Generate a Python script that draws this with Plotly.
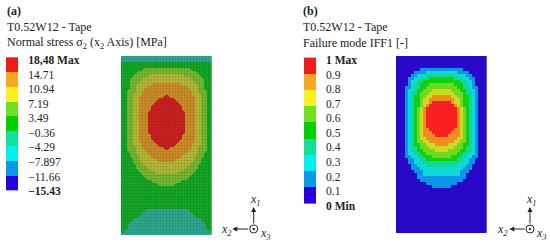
import numpy as np
import plotly.graph_objects as go

W, H = 550, 247
FONT = "Liberation Serif"

# Band index per mesh cell, left half of each row (panels are mirror-symmetric)
STRESS_ROWS = (
    ["333333333333333"] * 2 + ["444444444444444"] * 2 + [
    "444444455555555", "444445555555555", "444455555666666", "444555566666666",
    "444555666666666", "444556666677777", "444556667777777", "445556677777777",
    "445566677777777", "445566777777778", "445566777777888", "445566777778888",
    "445566777788888", "445566777788888"] + ["445566777888888"] * 8 + [
    "445566777788888", "445566777788888", "445566777778888", "445566677777888",
    "445556677777778", "445556667777777", "444556666777777", "444555666677777",
    "444455666666777", "444455566666666", "444445556666666", "444445555666666",
    "444444555556666", "444444455555555", "444444445555555", "444444444455555",
    "444444444444555"] + ["444444444444444"] * 8 + [
    "444444443333333", "444444433333333", "444444333333333", "444433333333333", "444333333333333",
    "443333333333333", "443333333333333", "433333333333333", "333333333333333"]
)
FAILURE_ROWS = (
    ["000000000000000"] * 4 + [
    "000000001111111", "000000111122222", "000001122233333", "000011223334444",
    "000012233444444", "000012334445555", "000112334455555", "000122344555666",
    "000123345556666", "000123445566777", "000123445667777", "000123445667888",
    "000123445678888"] + ["000123456788888"] * 7 + [
    "000123456778888", "000123456777888", "000123456777788", "000123456677777",
    "000123455667777", "000123445566677", "000123345556666", "000123344555566",
    "000122334455555", "000112233444555", "000011223344444", "000011222333333",
    "000001122233333", "000001112222222", "000000111222222", "000000011222222",
    "000000011111111", "000000001111111", "000000000011111", "000000000000111"] +
    ["000000000000000"] * 15
)

LEGEND_BANDS = [0, 1, 2, 3, 4, 5, 6, 7, 8]
STRESS_COLORS = ["#2a10c8", "#1098d8", "#10d0d0", "#30a890", "#14a828",
                 "#78b830", "#b8b838", "#d08c28", "#cf2020"]
FAILURE_COLORS = ["#2a08c8", "#0a96e6", "#10d8d8", "#10d898", "#10d010",
                  "#70d820", "#d0d820", "#f08c20", "#f82020"]
LEGEND_COLORS = ["#2800e0", "#0898e8", "#00f0f0", "#10e098", "#00d000",
                 "#70e020", "#f8f020", "#f8a820", "#f01c1c"]

STRESS_LABELS = ["<b>18,48 Max</b>", "14.71", "10.94", "7.19", "3.49", "−0.36",
                 "−4.29", "−7.897", "−11.66", "<b>−15.43</b>"]
FAILURE_LABELS = ["<b>1 Max</b>", "0.9", "0.8", "0.7", "0.6", "0.5", "0.4", "0.3",
                  "0.2", "0.1", "<b>0 Min</b>"]


def px(x): return x / W
def py(y): return 1 - y / H
def expand(rows): return [[int(c) for c in r + r[::-1]] for r in rows]
def scale(cols):
    n = len(cols)
    out = []
    for i, c in enumerate(cols):
        out += [[i / n, c], [(i + 1) / n, c]]
    return out


fig = go.Figure()
layout = dict(
    width=W, height=H, margin=dict(l=0, r=0, t=0, b=0, pad=0),
    paper_bgcolor="white", plot_bgcolor="white", showlegend=False, hovermode=False,
    font=dict(family=FONT, size=11.5, color="#222222"),
)


def field(rows, colors, idx, x0, x1, y0, y1, smooth):
    z = expand(rows)
    fig.add_trace(go.Heatmap(z=z, zmin=-0.5, zmax=8.5, colorscale=scale(colors), showscale=False,
                             zsmooth="best" if smooth else False,
                             xaxis=f"x{idx}", yaxis=f"y{idx}", hoverinfo="skip"))
    nr, nc = len(z), len(z[0])
    layout[f"xaxis{idx}"] = dict(domain=[px(x0), px(x1)], range=[-0.5, nc - 0.5], visible=False, anchor=f"y{idx}")
    layout[f"yaxis{idx}"] = dict(domain=[py(y1), py(y0)], range=[nr - 0.5, -0.5], visible=False, anchor=f"x{idx}")
    return nr, nc


def mesh(idx, nr, nc):
    xs, ys = [], []
    for c in np.arange(nc + 1) - 0.5:
        xs += [c, c, None]; ys += [-0.5, nr - 0.5, None]
    for r in np.arange(nr + 1) - 0.5:
        xs += [-0.5, nc - 0.5, None]; ys += [r, r, None]
    fig.add_trace(go.Scatter(x=xs, y=ys, mode="lines", line=dict(color="rgba(0,40,0,0.15)", width=0.7),
                             xaxis=f"x{idx}", yaxis=f"y{idx}", hoverinfo="skip"))


def legend(labels, idx, x0, x1, top, bottom, label_top, label_step, standoff):
    h = (bottom - top) / len(LEGEND_BANDS)
    fig.add_trace(go.Heatmap(z=[[b] for b in LEGEND_BANDS], zmin=-0.5, zmax=8.5,
                             colorscale=scale(LEGEND_COLORS), showscale=False,
                             xaxis=f"x{idx}", yaxis=f"y{idx}", hoverinfo="skip"))
    dom_top, dom_bot = 48, 214
    to_unit = lambda y: -0.5 + (bottom - y) / h
    tick_px = [label_top + label_step * i for i in range(len(labels))]
    layout[f"xaxis{idx}"] = dict(domain=[px(x0), px(x1)], range=[-0.5, 0.5], visible=False, anchor=f"y{idx}")
    layout[f"yaxis{idx}"] = dict(domain=[py(dom_bot), py(dom_top)], range=[to_unit(dom_bot), to_unit(dom_top)],
                                 side="right", anchor=f"x{idx}", showgrid=False, zeroline=False, showline=False,
                                 ticks="", tickmode="array", tickvals=[to_unit(t) for t in tick_px],
                                 ticktext=labels, ticklabelstandoff=standoff,
                                 tickfont=dict(family=FONT, size=11.5, color="#222222"))


nr, nc = field(STRESS_ROWS, STRESS_COLORS, 1, 121, 211.7, 56, 235.3, True)
mesh(1, nr, nc)
field(FAILURE_ROWS, FAILURE_COLORS, 2, 396, 486.7, 56, 233, False)
legend(STRESS_LABELS, 3, 6, 18.3, 57.3, 190.6, 60, 14.56, 9)
legend(FAILURE_LABELS, 4, 304, 316, 57.6, 204, 60, 14.57, 9)

annotations = []
def text(x, y, s, size=12, anchor="left"):
    annotations.append(dict(x=px(x), y=py(y), xref="paper", yref="paper", text=s, showarrow=False,
                            xanchor=anchor, yanchor="middle", font=dict(family=FONT, size=size, color="#222222")))

text(4.5, 11, "<b>(a)</b>")
text(5, 27, "T0.52W12 - Tape")
text(5, 43, "Normal stress σ<sub>2</sub> (x<sub>2</sub> Axis) [MPa]")
text(301, 11, "<b>(b)</b>")
text(301, 27, "T0.52W12 - Tape")
text(301, 43, "Failure mode IFF1 [-]")

shapes = []
def triad(cx, cy, up_y, left_x, lx1, lx2, lx3):
    shapes.append(dict(type="circle", xref="paper", yref="paper", x0=px(cx - 4), x1=px(cx + 4),
                       y0=py(cy + 4), y1=py(cy - 4), line=dict(color="#222222", width=1)))
    shapes.append(dict(type="circle", xref="paper", yref="paper", x0=px(cx - 1), x1=px(cx + 1),
                       y0=py(cy + 1), y1=py(cy - 1), fillcolor="#222222", line=dict(color="#222222", width=0.5)))
    annotations.append(dict(x=px(cx), y=py(up_y), ax=0, ay=cy - 4 - up_y, xref="paper", yref="paper",
                            axref="pixel", ayref="pixel", text="", showarrow=True, arrowhead=2, arrowsize=1,
                            arrowwidth=1, arrowcolor="#222222"))
    annotations.append(dict(x=px(left_x), y=py(cy), ax=cx - 4 - left_x, ay=0, xref="paper", yref="paper",
                            axref="pixel", ayref="pixel", text="", showarrow=True, arrowhead=2, arrowsize=1,
                            arrowwidth=1, arrowcolor="#222222"))
    text(lx1, 200, "<i>x<sub>1</sub></i>", anchor="center")
    text(lx2, 230, "<i>x<sub>2</sub></i>", anchor="center")
    text(lx3, 234, "<i>x<sub>3</sub></i>", anchor="center")

triad(253.7, 229, 207, 232.3, 255, 226, 265)
triad(530, 229, 207, 509.3, 531, 502, 541.7)

layout["annotations"] = annotations
layout["shapes"] = shapes
fig.update_layout(**layout)
fig.write_html("out.html", config=dict(displayModeBar=False, staticPlot=True),
               post_script="document.body.style.margin='0';document.documentElement.style.overflow='hidden';")
